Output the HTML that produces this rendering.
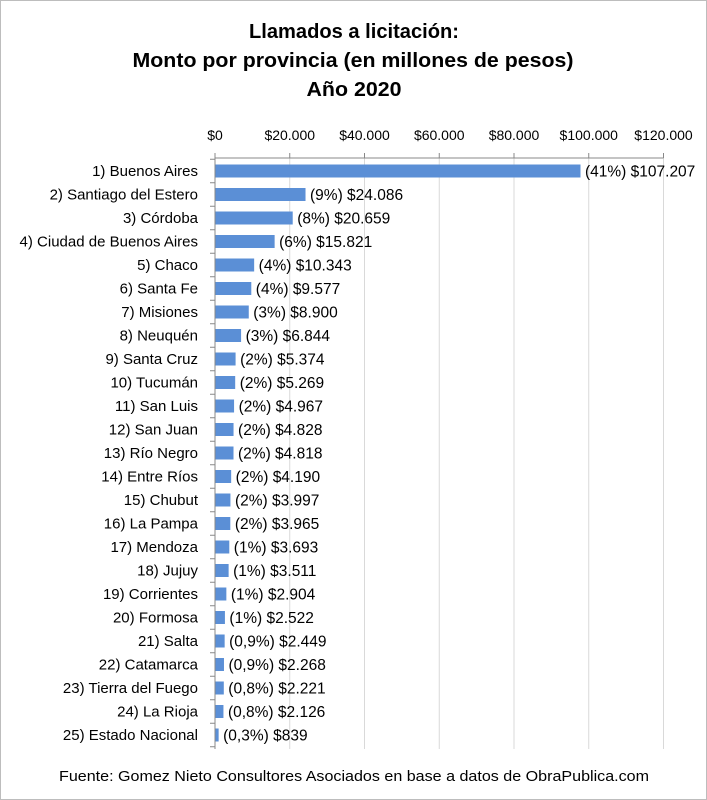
<!DOCTYPE html>
<html><head><meta charset="utf-8"><style>
html,body{margin:0;padding:0;background:#fff}
svg{display:block}
text{font-family:"Liberation Sans",sans-serif;fill:#000}
</style></head><body>
<svg width="707" height="800" viewBox="0 0 707 800">
<rect x="0.5" y="0.5" width="706" height="799" fill="#fff" stroke="#bdbdbd"/>
<g font-weight="bold" font-size="20" text-anchor="middle">
<text x="354" y="38" textLength="210" lengthAdjust="spacingAndGlyphs">Llamados a licitación:</text>
<text x="353" y="67" textLength="441" lengthAdjust="spacingAndGlyphs">Monto por provincia (en millones de pesos)</text>
<text x="354" y="96" textLength="95" lengthAdjust="spacingAndGlyphs">Año 2020</text>
</g>
<text x="354" y="781" font-size="14.5" text-anchor="middle" textLength="590" lengthAdjust="spacingAndGlyphs">Fuente: Gomez Nieto Consultores Asociados en base a datos de ObraPublica.com</text>
</svg>
<script>
(function(){
var ns="http://www.w3.org/2000/svg",svg=document.querySelector('svg');
function el(t,a,txt){var e=document.createElementNS(ns,t);for(var k in a)e.setAttribute(k,a[k]);if(txt!=null)e.textContent=txt;svg.appendChild(e);return e;}
var x0=215,sc=3.7375,yT=158,yB=749,c0=171,rh=23.5;
var ticks=["$0","$20.000","$40.000","$60.000","$80.000","$100.000","$120.000"];
for(var i=0;i<7;i++){var x=x0+i*20*sc;
 if(i>0)el('line',{x1:x,y1:yT,x2:x,y2:yB,stroke:'#d9d9d9'});
 el('line',{x1:x,y1:yT-5,x2:x,y2:yT,stroke:'#888'});
 el('text',{x:x,y:140,'font-size':14,'text-anchor':'middle'},ticks[i]);}
el('line',{x1:x0,y1:yT,x2:x0+120*sc,y2:yT,stroke:'#888'});
el('line',{x1:x0,y1:yT,x2:x0,y2:yB,stroke:'#888'});
var d=[["1) Buenos Aires",107.207,"(41%) $107.207"],["2) Santiago del Estero",24.086,"(9%) $24.086"],["3) Córdoba",20.659,"(8%) $20.659"],["4) Ciudad de Buenos Aires",15.821,"(6%) $15.821"],["5) Chaco",10.343,"(4%) $10.343"],["6) Santa Fe",9.577,"(4%) $9.577"],["7) Misiones",8.9,"(3%) $8.900"],["8) Neuquén",6.844,"(3%) $6.844"],["9) Santa Cruz",5.374,"(2%) $5.374"],["10) Tucumán",5.269,"(2%) $5.269"],["11) San Luis",4.967,"(2%) $4.967"],["12) San Juan",4.828,"(2%) $4.828"],["13) Río Negro",4.818,"(2%) $4.818"],["14) Entre Ríos",4.19,"(2%) $4.190"],["15) Chubut",3.997,"(2%) $3.997"],["16) La Pampa",3.965,"(2%) $3.965"],["17) Mendoza",3.693,"(1%) $3.693"],["18) Jujuy",3.511,"(1%) $3.511"],["19) Corrientes",2.904,"(1%) $2.904"],["20) Formosa",2.522,"(1%) $2.522"],["21) Salta",2.449,"(0,9%) $2.449"],["22) Catamarca",2.268,"(0,9%) $2.268"],["23) Tierra del Fuego",2.221,"(0,8%) $2.221"],["24) La Rioja",2.126,"(0,8%) $2.126"],["25) Estado Nacional",0.839,"(0,3%) $839"]];
for(var i=0;i<=25;i++){var y=c0-rh/2+i*rh;el('line',{x1:x0-5,y1:y,x2:x0,y2:y,stroke:'#888'});}
d.forEach(function(r,i){var cy=c0+rh*i;
 var w=i==0?365:r[1]*sc;
 el('rect',{x:x0+0.5,y:cy-6.5,width:w,height:13,fill:'#5b8fd6'});
 el('text',{x:198,y:cy+5,'font-size':15,'text-anchor':'end'},r[0]);
 el('text',{x:x0+w+5,y:cy+5.5,'font-size':15.5},r[2]);
});
})();
</script>
</body></html>
